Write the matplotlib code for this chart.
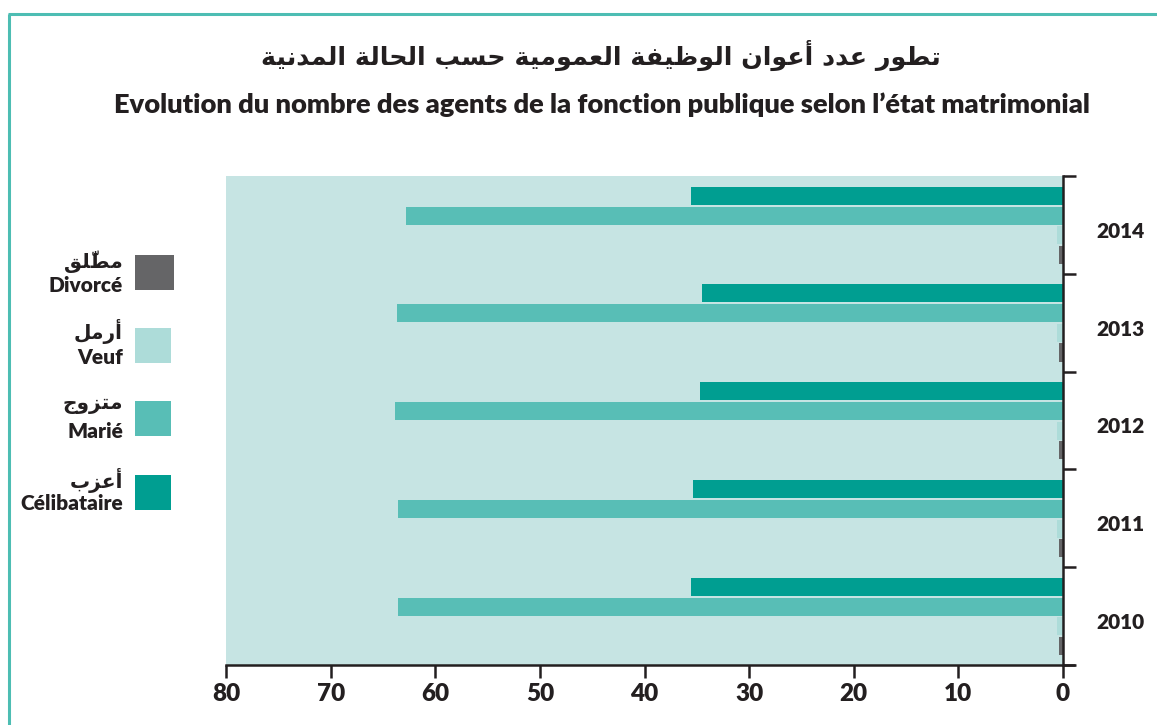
import matplotlib
matplotlib.use("Agg")
import matplotlib.pyplot as plt
import matplotlib.transforms as mtrans
from matplotlib.lines import Line2D
from matplotlib.patches import Rectangle

# ---------------- data ----------------
years = ["2010", "2011", "2012", "2013", "2014"]
celibataire = [35.6, 35.4, 34.7, 34.5, 35.6]
marie = [63.6, 63.6, 63.8, 63.7, 62.8]
veuf = [0.6, 0.6, 0.6, 0.6, 0.6]
divorce = [0.35, 0.35, 0.35, 0.35, 0.35]
x_ticks = [0, 10, 20, 30, 40, 50, 60, 70, 80]

title_ar = "تطور عدد أعوان الوظيفة العمومية حسب الحالة المدنية"
title_fr = "Evolution du nombre des agents de la fonction publique selon l’état matrimonial"
series_fr = ["Divorcé", "Veuf", "Marié", "Célibataire"]
series_ar = ["مطلّق", "أرمل", "متزوج", "أعزب"]

# ---------------- Arabic shaping (presentation forms, visual order) ----------------
FORMS = {
    'ا': ('\uFE8D', '\uFE8E', None, None),
    'أ': ('\uFE83', '\uFE84', None, None),
    'ب': ('\uFE8F', '\uFE90', '\uFE91', '\uFE92'),
    'ة': ('\uFE93', '\uFE94', None, None),
    'ت': ('\uFE95', '\uFE96', '\uFE97', '\uFE98'),
    'ج': ('\uFE9D', '\uFE9E', '\uFE9F', '\uFEA0'),
    'ح': ('\uFEA1', '\uFEA2', '\uFEA3', '\uFEA4'),
    'د': ('\uFEA9', '\uFEAA', None, None),
    'ر': ('\uFEAD', '\uFEAE', None, None),
    'ز': ('\uFEAF', '\uFEB0', None, None),
    'س': ('\uFEB1', '\uFEB2', '\uFEB3', '\uFEB4'),
    'ط': ('\uFEC1', '\uFEC2', '\uFEC3', '\uFEC4'),
    'ظ': ('\uFEC5', '\uFEC6', '\uFEC7', '\uFEC8'),
    'ع': ('\uFEC9', '\uFECA', '\uFECB', '\uFECC'),
    'ف': ('\uFED1', '\uFED2', '\uFED3', '\uFED4'),
    'ق': ('\uFED5', '\uFED6', '\uFED7', '\uFED8'),
    'ل': ('\uFEDD', '\uFEDE', '\uFEDF', '\uFEE0'),
    'م': ('\uFEE1', '\uFEE2', '\uFEE3', '\uFEE4'),
    'ن': ('\uFEE5', '\uFEE6', '\uFEE7', '\uFEE8'),
    'و': ('\uFEED', '\uFEEE', None, None),
    'ي': ('\uFEF1', '\uFEF2', '\uFEF3', '\uFEF4'),
}
LAMALEF = {'ا': ('\uFEFB', '\uFEFC'), 'أ': ('\uFEF7', '\uFEF8')}
MARKS = {'\u0651'}


def shape_ar(text):
    items = []
    for c in text:
        if c in MARKS and items:
            items[-1][1].append(c)
        else:
            items.append([c, []])
    is_ar = lambda c: c in FORMS
    dual = lambda c: c in FORMS and FORMS[c][2] is not None
    out = []
    i, n = 0, len(items)
    while i < n:
        c, marks = items[i]
        prev = items[i - 1][0] if i > 0 else None
        jp = prev is not None and dual(prev) and is_ar(c)
        if c == 'ل' and i + 1 < n and items[i + 1][0] in LAMALEF:
            out.append(LAMALEF[items[i + 1][0]][1 if jp else 0] + ''.join(marks + items[i + 1][1]))
            i += 2
            continue
        if not is_ar(c):
            out.append(c + ''.join(marks))
            i += 1
            continue
        nxt = items[i + 1][0] if i + 1 < n else None
        jn = dual(c) and nxt is not None and is_ar(nxt)
        f = FORMS[c]
        g = f[3] if (jp and jn) else f[1] if jp else f[2] if jn else f[0]
        out.append(g + ''.join(marks))
        i += 1
    return ''.join(reversed(out))


# ---------------- style ----------------
TXT = "#231F20"
C_CEL = "#009E91"
C_MAR = "#58BEB6"
C_VEU = "#ADDCD9"
C_DIV = "#656567"
BG = "#C6E4E3"
BORDER = "#4DBDB3"
LAT = ["Lato", "DejaVu Sans"]
AR = ["DejaVu Sans"]

W, H = 1157, 725
fig = plt.figure(figsize=(W / 100, H / 100), dpi=100)
fig.patch.set_facecolor("white")

ax = fig.add_axes([226 / W, 1 - 665 / H, (1063 - 226) / W, (665 - 176) / H])
ax.set_facecolor(BG)

ypos = list(range(len(years)))
h = 0.185
offs = [0.30, 0.095, -0.105, -0.305]
vals = [celibataire, marie, veuf, divorce]
cols = [C_CEL, C_MAR, C_VEU, C_DIV]
for v, c, o in zip(vals, cols, offs):
    ax.barh([y + 0.5 + o for y in ypos], v, height=h, color=c, linewidth=0, zorder=3)

ax.set_xlim(80, 0)
ax.set_ylim(0, len(years))

for s in ["left", "top"]:
    ax.spines[s].set_visible(False)
for s in ["right", "bottom"]:
    ax.spines[s].set_color(TXT)
    ax.spines[s].set_linewidth(1.8)
    ax.spines[s].set_zorder(5)

ax.set_xticks(x_ticks)
ax.set_xticklabels([str(t) for t in x_ticks], fontsize=17.5, fontweight="heavy",
                   color=TXT, family=LAT)
ax.tick_params(axis="x", direction="out", length=9, width=1.8, color=TXT, pad=4)

ax.yaxis.tick_right()
ax.set_yticks(range(len(years) + 1))
ax.set_yticklabels([])
ax.tick_params(axis="y", which="major", direction="out", length=9, width=1.8, color=TXT)
ax.set_yticks([y + 0.5 for y in ypos], minor=True)
ax.set_yticklabels(years, minor=True, fontsize=15, fontweight="heavy", color=TXT, family=LAT)
ax.tick_params(axis="y", which="minor", length=0, pad=24)
for lbl in ax.get_yticklabels(minor=True):
    lbl.set_transform(lbl.get_transform() + mtrans.ScaledTranslation(0, -5 / 100, fig.dpi_scale_trans))

# bottom axis line extends a bit past the right axis
ax.add_line(Line2D([1.0, 1.0 + 12 / (1063 - 226)], [0, 0], transform=ax.transAxes,
                   color=TXT, lw=1.8, clip_on=False, zorder=5, solid_capstyle="butt"))

# ---------------- titles ----------------
fig.text(601 / W, 1 - 55 / H, shape_ar(title_ar), ha="center", va="center",
         fontsize=18.3, fontweight="bold", color=TXT, family=AR)
fig.text(602 / W, 1 - 105 / H, title_fr, ha="center", va="center",
         fontsize=19.6, fontweight="heavy", color=TXT, family=LAT)

# ---------------- legend ----------------
sq = [(135, 255, 39, 35), (135, 328, 36, 35), (135, 401, 36, 35), (135, 475, 36, 35)]
leg_cols = [C_DIV, C_VEU, C_MAR, C_CEL]
ar_y = [262, 331, 405, 480]
fr_y = [286, 358, 432, 504]
for (x0, y0, w0, h0), c, a, f, ya, yf in zip(sq, leg_cols, series_ar, series_fr, ar_y, fr_y):
    fig.add_artist(Rectangle((x0 / W, 1 - (y0 + h0) / H), w0 / W, h0 / H,
                             transform=fig.transFigure, color=c, lw=0))
    fig.text(123 / W, 1 - ya / H, shape_ar(a), ha="right", va="center",
             fontsize=14.5, fontweight="bold", color=TXT, family=AR)
    fig.text(123 / W, 1 - yf / H, f, ha="right", va="center",
             fontsize=15, fontweight="heavy", color=TXT, family=LAT)

# ---------------- frame ----------------
fig.add_artist(Line2D([8.5 / W, 8.5 / W], [0, 1 - 14 / H], transform=fig.transFigure,
                      color=BORDER, lw=2.2, solid_capstyle="butt"))
fig.add_artist(Line2D([7.5 / W, 1], [1 - 14 / H, 1 - 14 / H], transform=fig.transFigure,
                      color=BORDER, lw=2.2, solid_capstyle="butt"))

fig.savefig("out.png", dpi=100)
